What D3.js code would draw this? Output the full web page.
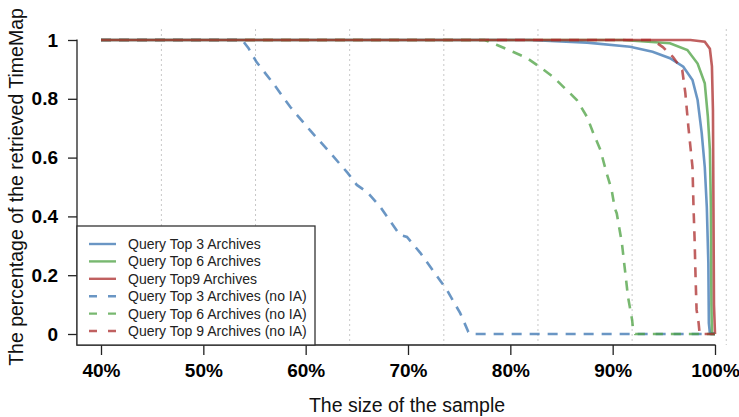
<!DOCTYPE html>
<html>
<head>
<meta charset="utf-8">
<script src="https://cdn.jsdelivr.net/npm/d3@7"></script>
<style>
body { margin: 0; background: #fff; }
svg { display: block; font-family: "Liberation Sans", Arial, sans-serif; }
</style>
</head>
<body>
<script>
// donnees : [taille de l'echantillon en %, part des TimeMap]
var top3 = [[40,1],[81.9,1],[87.5,0.991],[91.7,0.977],[93.9,0.96],[95.6,0.938],[96.9,0.909],[97.8,0.864],
  [98.3,0.796],[98.7,0.684],[99.0,0.568],[99.2,0.432],[99.35,0.241],[99.4,0.037],[99.5,0.003],[100,0]];
var top6 = [[40,1],[91.0,1],[95.6,0.989],[97.3,0.966],[98.3,0.92],[99.0,0.853],[99.3,0.74],[99.5,0.626],
  [99.6,0.432],[99.65,0.1],[99.7,0],[100,0]];
var top9 = [[40,1],[97.6,1],[99.0,0.994],[99.5,0.97],[99.7,0.91],[99.8,0.76],[99.85,0.43],[99.9,0.1],[100,0]];
var top3NoIA = [[40,1],[53.8,1],[54.4,0.973],[55.2,0.925],[56.8,0.854],[58.5,0.772],[60.4,0.694],[62.4,0.616],
  [64.1,0.548],[65.0,0.507],[66.0,0.483],[67.3,0.432],[69.2,0.337],[69.9,0.330],[71.2,0.276],[73.1,0.184],
  [73.8,0.15],[75.1,0.071],[75.9,0.007],[76.1,0],[100,0]];
var top6NoIA = [[40,1],[77.5,1],[78.7,0.983],[80.3,0.959],[81.6,0.939],[82.9,0.908],[84.2,0.874],[85.5,0.83],
  [86.5,0.796],[87.5,0.738],[88.1,0.684],[88.8,0.626],[89.4,0.548],[89.9,0.49],[90.2,0.429],[90.4,0.41],
  [90.9,0.31],[91.2,0.218],[91.5,0.126],[91.9,0.048],[92.0,0.014],[92.2,0],[100,0]];
var top9NoIA = [[40,1],[93.9,1],[94.9,0.976],[95.9,0.942],[96.8,0.898],[97.1,0.82],[97.4,0.704],[97.8,0.568],
  [97.9,0.432],[98.0,0.33],[98.1,0.194],[98.2,0.082],[98.4,0.037],[98.5,0],[100,0]];

var seriesNames = ["Query Top 3 Archives", "Query Top 6 Archives", "Query Top9 Archives",
  "Query Top 3 Archives (no IA)", "Query Top 6 Archives (no IA)", "Query Top 9 Archives (no IA)"];
var xTicks = [40, 50, 60, 70, 80, 90, 100];
var yTicks = [0, 0.2, 0.4, 0.6, 0.8, 1];
var gridX = [45.9, 55.1, 64.3, 73.5, 82.7, 91.9, 101.1];

// couleurs semi-transparentes (les superpositions foncent)
var blue = "rgba(56,115,176,0.75)",
    green = "rgba(75,160,64,0.75)",
    red = "rgba(171,43,43,0.75)";

var series = [
  {name: seriesNames[0], data: top3, col: blue, dash: null},
  {name: seriesNames[1], data: top6, col: green, dash: null},
  {name: seriesNames[2], data: top9, col: red, dash: null},
  {name: seriesNames[3], data: top3NoIA, col: blue, dash: "10,8"},
  {name: seriesNames[4], data: top6NoIA, col: green, dash: "10,8"},
  {name: seriesNames[5], data: top9NoIA, col: red, dash: "10,8"}
];

var width = 739, height = 417;

var svg = d3.select("body").append("svg")
    .attr("width", width)
    .attr("height", height);

var x = d3.scaleLinear().domain([40, 100]).range([101, 715]);
var y = d3.scaleLinear().domain([0, 1]).range([334, 40]);

// grille verticale pointillee
svg.append("g")
  .selectAll("line")
  .data(gridX)
  .enter()
  .append("line")
  .attr("x1", function(d) { return x(d); })
  .attr("x2", function(d) { return x(d); })
  .attr("y1", 29)
  .attr("y2", 345)
  .attr("stroke", "#c8c8c8")
  .attr("stroke-width", 1)
  .attr("stroke-dasharray", "2,3");

// les courbes
var line = d3.line()
  .x(function(d) { return x(d[0]); })
  .y(function(d) { return y(d[1]); });

svg.append("g")
  .selectAll("path")
  .data(series)
  .enter()
  .append("path")
  .attr("d", function(d) { return line(d.data); })
  .attr("fill", "none")
  .attr("stroke", function(d) { return d.col; })
  .attr("stroke-width", 2.6)
  .attr("stroke-dasharray", function(d) { return d.dash; });

// axes
var yAxis = d3.axisLeft(y)
  .tickValues(yTicks)
  .tickSize(9)
  .tickPadding(10)
  .tickFormat(function(d) { return (d === 0 || d === 1) ? d : d.toFixed(1); });

var xAxis = d3.axisBottom(x)
  .tickValues(xTicks)
  .tickSize(10)
  .tickPadding(9)
  .tickFormat(function(d) { return d + "%"; });

var gy = svg.append("g")
  .attr("transform", "translate(77,0)")
  .call(yAxis);
var gx = svg.append("g")
  .attr("transform", "translate(0,345)")
  .call(xAxis);

[gy, gx].forEach(function(g) {
  g.select(".domain").remove();
  g.selectAll("line").attr("stroke", "#222").attr("stroke-width", 1.3);
  g.selectAll("text")
    .attr("fill", "#000")
    .style("font-size", "19px")
    .style("font-weight", "bold")
    .style("font-family", '"Liberation Sans", Arial, sans-serif');
});

svg.append("path")
  .attr("d", "M77,39.5V345H715.6")
  .attr("fill", "none")
  .attr("stroke", "#222")
  .attr("stroke-width", 1.3);

// titres des axes
svg.append("text")
  .attr("x", 407)
  .attr("y", 412)
  .attr("text-anchor", "middle")
  .style("font-size", "19.5px")
  .attr("fill", "#111")
  .text("The size of the sample");

svg.append("text")
  .attr("transform", "translate(23,187) rotate(-90)")
  .attr("text-anchor", "middle")
  .style("font-size", "19.5px")
  .attr("fill", "#111")
  .text("The percentage of the retrieved TimeMap");

// legende
var legend = svg.append("g");
legend.append("rect")
  .attr("x", 77)
  .attr("y", 226)
  .attr("width", 238)
  .attr("height", 119)
  .attr("fill", "#fff")
  .attr("stroke", "#333")
  .attr("stroke-width", 1.3);

var item = legend.selectAll("g.item")
  .data(series)
  .enter()
  .append("g")
  .attr("class", "item")
  .attr("transform", function(d, i) { return "translate(0," + (244 + i * 17.4) + ")"; });

item.append("line")
  .attr("x1", 89)
  .attr("x2", 116)
  .attr("stroke", function(d) { return d.col; })
  .attr("stroke-width", 2.4)
  .attr("stroke-dasharray", function(d) { return d.dash ? "8,11" : null; });

item.append("text")
  .attr("x", 128)
  .attr("dy", "0.35em")
  .style("font-size", "14px")
  .attr("fill", "#222")
  .text(function(d) { return d.name; });
</script>
</body>
</html>
